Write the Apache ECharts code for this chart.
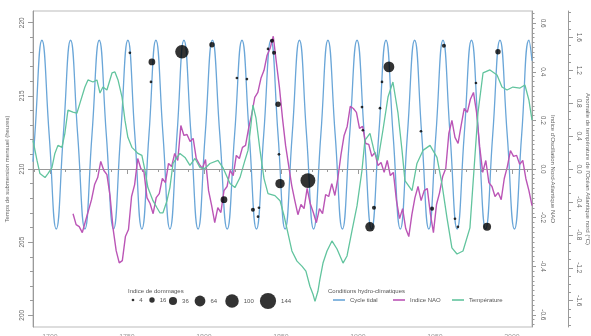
<!DOCTYPE html>
<html>
<head>
<meta charset="utf-8">
<script src="https://cdn.jsdelivr.net/npm/echarts@6/dist/echarts.min.js"></script>
<style>html,body{margin:0;padding:0;background:#fff;}#c{width:591px;height:336px;}</style>
</head>
<body>
<div id="c"></div>
<script>
// ---- tick labels ----
const yearTicks = [1700, 1750, 1800, 1850, 1900, 1950, 2000];
const hourTicks = [200, 205, 210, 215, 220];
const naoTicks = [-0.6, -0.4, -0.2, 0, 0.2, 0.4, 0.6];
const tempTicks = [-1.6, -1.2, -0.8, -0.4, 0, 0.4, 0.8, 1.2, 1.6];
const damageLegendValues = [4, 16, 36, 64, 100, 144];

// ---- tidal cycle (hours) ----
const tidalYears = [1689, 1690.2, 1694.8, 1699.5, 1704.1, 1708.7, 1713.4, 1718.0, 1722.7, 1727.3,
  1732.0, 1736.6, 1741.3, 1745.9, 1750.6, 1755.1, 1759.7, 1764.3, 1768.8, 1773.4,
  1777.9, 1782.5, 1787.0, 1791.6, 1796.2, 1800.8, 1805.5, 1810.3, 1815.1, 1819.9,
  1824.7, 1829.4, 1834.1, 1838.8, 1843.5, 1848.1, 1852.7, 1857.3, 1862.0, 1866.6,
  1871.2, 1875.9, 1880.5, 1885.2, 1889.9, 1894.6, 1899.4, 1904.1, 1908.8, 1913.5,
  1918.2, 1922.8, 1927.5, 1932.1, 1936.8, 1941.4, 1946.0, 1950.6, 1955.2, 1959.8,
  1964.4, 1969.0, 1973.7, 1978.3, 1982.9, 1987.5, 1992.2, 1996.9, 2001.6, 2006.3,
  2011.0, 2013.0];
const tidalHours = [210.5, 212.35, 218.8, 212.35, 205.9, 212.35, 218.8, 212.35, 205.9, 212.35,
  218.8, 212.35, 205.9, 212.35, 218.8, 212.35, 205.9, 212.35, 218.8, 212.35,
  205.9, 212.35, 218.8, 212.35, 205.9, 212.35, 218.8, 212.35, 205.9, 212.35,
  218.8, 212.35, 205.9, 212.35, 218.8, 212.35, 205.9, 212.35, 218.8, 212.35,
  205.9, 212.35, 218.8, 212.35, 205.9, 212.35, 218.8, 212.35, 205.9, 212.35,
  218.8, 212.35, 205.9, 212.35, 218.8, 212.35, 205.9, 212.35, 218.8, 212.35,
  205.9, 212.35, 218.8, 212.35, 205.9, 212.35, 218.8, 212.35, 205.9, 212.35,
  218.8, 217.4];

// ---- NAO index, every 2 years from 1715 ----
const naoStartYear = 1715;
const naoStepYears = 2;
const naoValues = [
  -0.184, -0.229, -0.237, -0.262, -0.216, -0.171, -0.126, -0.064, -0.035, 0.031,
  -0.006, -0.023, -0.109, -0.245, -0.336, -0.386, -0.377, -0.278, -0.249, -0.113,
  -0.064, 0.043, 0.002, -0.010, -0.118, -0.142, -0.184, -0.118, -0.101, -0.039,
  -0.056, 0.023, 0.010, 0.064, 0.035, 0.179, 0.138, 0.142, 0.113, 0.126,
  0.043, 0.019, 0.002, 0.039, -0.089, -0.151, -0.221, -0.159, -0.179, -0.089,
  -0.072, -0.006, -0.027, 0.056, 0.043, 0.089, 0.097, 0.167, 0.225, 0.295,
  0.315, 0.373, 0.406, 0.468, 0.497, 0.546, 0.439, 0.336, 0.208, 0.097,
  0.014, -0.068, -0.130, -0.188, -0.146, -0.163, -0.080, -0.142, -0.179, -0.221,
  -0.163, -0.184, -0.105, -0.113, -0.060, -0.109, -0.035, 0.060, 0.138, 0.175,
  0.258, 0.249, 0.233, 0.167, 0.175, 0.105, 0.101, 0.052, 0.068, 0.014,
  0.027, -0.014, 0.035, -0.027, -0.014, -0.130, -0.204, -0.163, -0.245, -0.278,
  -0.188, -0.118, -0.072, -0.130, -0.089, -0.080, -0.184, -0.262, -0.146, -0.097,
  -0.031, 0.002, 0.146, 0.200, 0.130, 0.105, 0.179, 0.249, 0.233, 0.287,
  0.315, 0.233, 0.093, -0.014, 0.035, -0.056, -0.072, -0.113, -0.097, -0.126,
  -0.039, 0.010, 0.076, 0.052, 0.056, 0.019, 0.035, -0.039, -0.089, -0.151];

// ---- temperature anomaly (°C) ----
const tempYears = [
  1689.0, 1691.6, 1693.5, 1696.8, 1698.7, 1701.3, 1703.2, 1705.2, 1707.8, 1709.7,
  1711.7, 1714.9, 1717.5, 1719.5, 1722.7, 1724.7, 1727.9, 1730.5, 1732.5, 1734.4,
  1737.0, 1740.3, 1742.2, 1744.2, 1746.8, 1748.7, 1750.6, 1753.2, 1755.2, 1757.1,
  1759.7, 1761.7, 1763.6, 1766.9, 1769.5, 1771.4, 1773.4, 1776.0, 1777.9, 1779.9,
  1782.5, 1784.4, 1787.7, 1790.9, 1794.2, 1797.4, 1800.6, 1803.9, 1809.1, 1812.3,
  1816.9, 1820.1, 1823.4, 1826.6, 1828.6, 1830.5, 1831.8, 1833.8, 1836.4, 1839.0,
  1841.6, 1846.1, 1849.4, 1852.0, 1854.5, 1857.1, 1860.4, 1863.6, 1866.2, 1868.8,
  1870.8, 1872.1, 1874.0, 1875.3, 1877.3, 1879.9, 1883.1, 1886.4, 1890.3, 1892.9,
  1896.1, 1899.4, 1902.6, 1904.5, 1907.8, 1910.4, 1913.0, 1916.2, 1919.5, 1922.7,
  1926.0, 1928.6, 1930.5, 1935.1, 1938.3, 1942.2, 1946.8, 1951.3, 1954.5, 1957.8,
  1961.0, 1964.3, 1968.2, 1972.7, 1975.3, 1977.9, 1981.2, 1985.7, 1990.3, 1993.5,
  1996.8, 2000.6, 2005.2, 2008.4, 2011.0, 2013.0];
const tempValues = [
  0.348, 0.104, -0.055, -0.104, -0.055, 0.018, 0.189, 0.287, 0.263, 0.434,
  0.715, 0.691, 0.678, 0.801, 0.996, 1.082, 1.057, 1.082, 0.923, 0.996,
  0.960, 1.167, 1.180, 1.082, 0.874, 0.593, 0.385, 0.263, 0.226, 0.189,
  0.165, -0.018, -0.226, -0.385, -0.471, -0.532, -0.532, -0.385, -0.226, 0.067,
  0.141, 0.189, 0.141, 0.043, 0.128, 0.018, 0.006, 0.067, 0.104, 0.018,
  -0.177, -0.226, -0.104, 0.104, 0.226, 0.532, 0.776, 0.617, 0.226, -0.116,
  -0.300, -0.324, -0.385, -0.568, -0.776, -0.996, -1.119, -1.180, -1.241, -1.425,
  -1.522, -1.608, -1.486, -1.339, -1.143, -0.996, -0.874, -0.972, -1.143, -1.057,
  -0.752, -0.446, -0.018, 0.348, 0.434, 0.226, 0.104, 0.471, 0.874, 1.057,
  0.678, 0.226, -0.141, -0.263, 0.067, 0.226, 0.287, 0.141, -0.177, -0.593,
  -0.959, -1.033, -0.996, -0.715, -0.018, 0.678, 1.167, 1.204, 1.143, 0.996,
  0.960, 0.996, 0.984, 1.021, 0.837, 0.593];

// ---- damage index points ----
const damageYears = [1751.9, 1766.2, 1765.6, 1785.7, 1805.2, 1821.4, 1827.9, 1844.2, 1841.6, 1845.5,
  1848.1, 1848.7, 1849.4, 1867.5, 1813.0, 1831.8, 1835.7, 1835.1, 1907.8, 1910.4,
  1920.1, 1915.6, 1902.6, 1914.3, 1903.2, 1940.9, 1955.8, 1976.6, 1990.9, 1948.1,
  1963.0, 1964.9, 1983.8];
const damageHours = [217.94, 217.32, 215.95, 218.01, 218.49, 216.22, 216.15, 218.76, 218.21, 217.94,
  214.43, 211.00, 209.00, 209.21, 207.90, 207.22, 207.35, 206.74, 206.05, 207.35,
  216.98, 215.95, 214.23, 214.16, 212.65, 212.58, 218.42, 215.88, 218.01, 207.29,
  206.60, 206.05, 206.05];
const damageIndex = [4, 25, 4, 100, 16, 4, 4, 9, 4, 9,
  16, 4, 49, 121, 25, 9, 4, 4, 49, 9,
  64, 4, 4, 4, 4, 4, 9, 4, 16, 9,
  4, 4, 36];

// ---- helpers ----
function range(a, b, step) {
  const out = [];
  const n = Math.round((b - a) / step);
  for (let i = 0; i <= n; i++) out.push(+(a + i * step).toFixed(4));
  return out;
}
const yearMinor = range(1690, 2010, 10);
const hourMinor = range(200, 220, 1);
const naoMinor = range(-0.64, 0.64, 0.02);
const tempMinor = range(-1.9, 1.9, 0.1);
const dotSize = v => 1.35 * Math.sqrt(v);

const BLUE = '#6aa6d8', MAG = '#bb55b6', GREEN = '#62c49e';
const AX = '#9a9a9a', TXT = '#666';
const FONT = 'Liberation Sans';

const tidalData = tidalYears.map((y, i) => [y, tidalHours[i]]);
const naoData = naoValues.map((v, i) => [naoStartYear + i * naoStepYears, v]);
const tempData = tempYears.map((y, i) => [y, tempValues[i]]);
const damageData = damageYears.map((y, i) => [y, damageHours[i], damageIndex[i]]);

function minorAxis(pos, min, max, ticks, len, offset) {
  return {
    type: 'value', position: pos, min: min, max: max, offset: offset || 0,
    axisLine: { show: false }, splitLine: { show: false },
    axisTick: { show: true, customValues: ticks, length: len, lineStyle: { color: AX } },
    axisLabel: { show: false }
  };
}

// legend layout (positions only)
const sizeLegendX = [133, 152, 173, 200, 232, 268];
const legendRowY = 301;
const legends = damageLegendValues.map((v, i) => {
  const d = dotSize(v);
  return {
    left: sizeLegendX[i] - d / 2, top: legendRowY - Math.max(d, 8) / 2, padding: 0,
    itemWidth: d, itemHeight: d, icon: 'circle',
    data: [String(v)],
    textStyle: { fontSize: 6, color: '#555', fontFamily: FONT }
  };
});
const lineLegend = (name, left) => ({
  left: left, top: legendRowY - 4, padding: 0, itemWidth: 12, itemHeight: 1.6,
  icon: 'rect', data: [name], textStyle: { fontSize: 6, color: '#555', fontFamily: FONT }
});
legends.push(lineLegend('Cycle tidal', 333));
legends.push(lineLegend('Indice NAO', 393));
legends.push(lineLegend('Température', 452));

const sizeSeries = damageLegendValues.map(v => ({
  type: 'scatter', name: String(v), data: [], symbol: 'circle', itemStyle: { color: '#000' }
}));

const option = {
  animation: false,
  textStyle: { fontFamily: FONT },
  title: [
    { text: 'Indice de dommages', left: 128, top: 288, padding: 0,
      textStyle: { fontSize: 6, fontWeight: 'normal', color: '#555', fontFamily: FONT } },
    { text: 'Conditions hydro-climatiques', left: 328, top: 288, padding: 0,
      textStyle: { fontSize: 6, fontWeight: 'normal', color: '#555', fontFamily: FONT } }
  ],
  legend: legends,
  grid: { left: 33, right: 59, top: 11, bottom: 9, show: true, borderColor: '#bbb', borderWidth: 1,
    containLabel: false, outerBoundsMode: 'none' },
  xAxis: [
    { type: 'value', position: 'bottom', min: 1689, max: 2013,
      axisLine: { show: true, lineStyle: { color: AX } },
      axisTick: { show: true, customValues: yearTicks, length: 5, lineStyle: { color: AX } },
      axisLabel: { customValues: yearTicks, fontSize: 7, color: '#999', margin: 7,
        formatter: v => String(v) },
      splitLine: { show: false } },
    minorAxis('bottom', 1689, 2013, yearMinor, 3, 0)
  ],
  yAxis: [
    { type: 'value', position: 'left', min: 199.2, max: 220.8,
      name: 'Temps de submersion mensuel (heures)', nameLocation: 'middle', nameGap: 23, nameMoveOverlap: false,
      nameTextStyle: { fontSize: 6, color: TXT },
      axisLine: { show: true, lineStyle: { color: AX } },
      axisTick: { show: true, customValues: hourTicks, length: 5, lineStyle: { color: AX } },
      axisLabel: { customValues: hourTicks, rotate: 90, fontSize: 6.5, color: TXT, margin: 7 },
      splitLine: { show: false } },
    minorAxis('left', 199.2, 220.8, hourMinor, 3, 0),
    { type: 'value', position: 'right', min: -0.65, max: 0.65, offset: 0,
      name: "Indice d'Oscillation Nord-Atlantique NAO", nameLocation: 'middle', nameGap: 18, nameRotate: -90,
      nameMoveOverlap: false,
      nameTextStyle: { fontSize: 6, color: TXT },
      axisLine: { show: true, lineStyle: { color: AX } },
      axisTick: { show: true, customValues: naoTicks, length: 4, lineStyle: { color: AX } },
      axisLabel: { customValues: naoTicks, rotate: -90, fontSize: 6.5, color: TXT, margin: 7,
        formatter: v => v.toFixed(1) },
      splitLine: { show: false } },
    minorAxis('right', -0.65, 0.65, naoMinor, 2.5, 0),
    { type: 'value', position: 'right', min: -1.92, max: 1.92, offset: 36,
      name: "Anomalie de température de l'Océan Atlantique nord (°C)", nameLocation: 'middle', nameGap: 17, nameRotate: -90,
      nameMoveOverlap: false,
      nameTextStyle: { fontSize: 6, color: TXT },
      axisLine: { show: true, lineStyle: { color: AX } },
      axisTick: { show: true, customValues: tempTicks, length: 5, lineStyle: { color: AX } },
      axisLabel: { customValues: tempTicks, rotate: -90, fontSize: 6.5, color: TXT, margin: 7,
        formatter: v => v.toFixed(1) },
      splitLine: { show: false } },
    minorAxis('right', -1.92, 1.92, tempMinor, 3, 36)
  ],
  series: [
    { type: 'line', name: 'Cycle tidal', xAxisIndex: 0, yAxisIndex: 0, data: tidalData,
      smooth: 0.5, symbol: 'none', lineStyle: { color: BLUE, width: 1.3 }, itemStyle: { color: BLUE },
      markLine: { silent: true, symbol: 'none', label: { show: false },
        lineStyle: { color: '#999', type: [2, 2], width: 1 }, data: [{ yAxis: 210 }] } },
    { type: 'line', name: 'Indice NAO', xAxisIndex: 0, yAxisIndex: 2, data: naoData,
      symbol: 'none', lineStyle: { color: MAG, width: 1.4 }, itemStyle: { color: MAG } },
    { type: 'line', name: 'Température', xAxisIndex: 0, yAxisIndex: 4, data: tempData,
      symbol: 'none', lineStyle: { color: GREEN, width: 1.3 }, itemStyle: { color: GREEN } },
    { type: 'scatter', name: 'Indice de dommages', xAxisIndex: 0, yAxisIndex: 0, data: damageData,
      symbol: 'circle', symbolSize: v => dotSize(v[2]), itemStyle: { color: '#000' }, z: 5 }
  ].concat(sizeSeries)
};

const chart = echarts.init(document.getElementById('c'), null, { renderer: 'canvas' });
chart.setOption(option);
</script>
</body>
</html>
